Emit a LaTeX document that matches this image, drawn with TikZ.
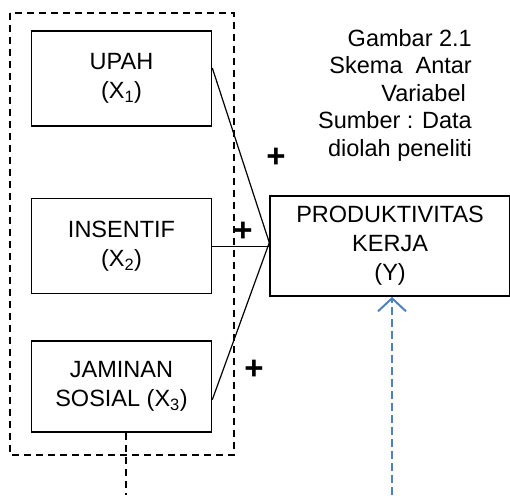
\documentclass[tikz,border=0pt]{standalone}
\usepackage{fontspec}
\setmainfont{Liberation Sans}
\usetikzlibrary{arrows.meta,positioning}
\definecolor{linkblue}{HTML}{4F81BD}

\begin{document}
\begin{tikzpicture}[x=1pt, y=-1pt, node distance=71pt]
  \tikzset{
    varbox/.style={draw, line width=1.6pt, align=center, font=\fontsize{23.5}{29}\selectfont, minimum width=180pt, minimum height=95pt},
    link/.style={line width=1.2pt},
    frame/.style={line width=1.4pt, dash pattern=on 7pt off 5pt},
    sign/.style={font=\fontsize{33}{33}\bfseries\selectfont, inner sep=0pt},
    flow/.style={linkblue, line width=2pt, dash pattern=on 8pt off 4pt, -{Straight Barb[length=13pt, width=28pt]}}
  }
  \useasboundingbox (0,0) rectangle (510,495);

  \node[varbox] (upah) at (121.5,78.5) {UPAH\\(X\textsubscript{1})};
  \node[varbox, below=of upah] (insentif) {INSENTIF\\(X\textsubscript{2})};
  \node[varbox, below=46pt of insentif, minimum height=91pt] (jaminan) {JAMINAN\\SOSIAL (X\textsubscript{3})};
  \node[varbox, right=57pt of insentif, minimum width=240pt, minimum height=100pt] (produktivitas) {PRODUKTIVITAS\\KERJA\\(Y)};

  \node[anchor=north east, align=right, inner sep=0pt, font=\fontsize{23.5}{27.5}\selectfont] (caption) at (472,29)
    {Gambar 2.1\\Skema\ \ Antar\\Variabel\kern6pt\\Sumber : Data\\diolah peneliti};

  % group of independent variables
  \draw[frame] (10,13) rectangle (234,455);

  \coordinate (meet) at ([yshift=3.5pt]produktivitas.west);
  \draw[link] ([yshift=10.5pt]upah.east) -- (meet);
  \draw[link] (insentif.east) -- (insentif.east -| meet);
  \draw[link] ([yshift=-13pt]jaminan.east) -- (meet);

  \node[sign] (plusa) at (276,158) {+};
  \node[sign] (plusb) at (243,232) {+};
  \node[sign] (plusc) at (254,370) {+};

  \coordinate (tail) at (126,495);
  \draw[frame] (jaminan.south -| tail) -- (tail);
  \coordinate (src) at (392,495);
  \draw[flow] (src) -- (src |- produktivitas.south);
\end{tikzpicture}
\end{document}
